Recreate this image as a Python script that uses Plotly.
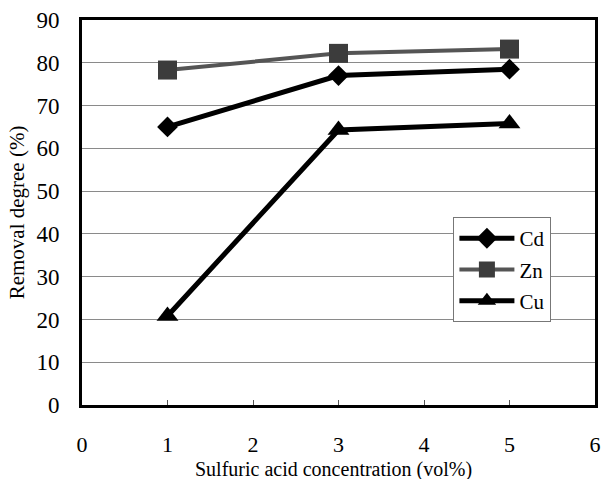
import plotly.graph_objects as go

x_vals = [1, 3, 5]
cd = [65, 77, 78.5]
zn = [78.3, 82.2, 83.2]
cu = [20.8, 64.3, 65.8]

x_ticks = [0, 1, 2, 3, 4, 5, 6]
y_ticks = [0, 10, 20, 30, 40, 50, 60, 70, 80, 90]

font = "Liberation Serif, Times New Roman, serif"

fig = go.Figure()
fig.add_trace(go.Scatter(x=x_vals, y=cd, name="Cd", mode="lines+markers", legendgroup="a",
                         line=dict(color="black", width=5),
                         marker=dict(symbol="diamond", size=16, color="black")))
fig.add_trace(go.Scatter(x=x_vals, y=zn, name="Zn", mode="lines+markers", legendgroup="b",
                         line=dict(color="#555555", width=4),
                         marker=dict(symbol="square", size=19, color="#3c3c3c")))
fig.add_trace(go.Scatter(x=x_vals, y=cu, name="Cu", mode="lines+markers", legendgroup="c",
                         line=dict(color="black", width=5),
                         marker=dict(symbol="triangle-up", size=19, color="black")))

fig.update_layout(
    width=602, height=479,
    margin=dict(l=82, r=7, t=20, b=74),
    paper_bgcolor="white", plot_bgcolor="white",
    font=dict(family=font, color="black"),
    showlegend=True,
    legend=dict(x=0.724, y=0.488, xanchor="left", yanchor="top",
                bgcolor="white", bordercolor="#777777", borderwidth=1,
                font=dict(size=21, family=font), itemwidth=55,
                tracegroupgap=1),
    annotations=[
        dict(text="Sulfuric acid concentration (vol%)", xref="paper", yref="paper",
             x=0.49, y=-0.168, xanchor="center", yanchor="middle", showarrow=False,
             font=dict(size=20, family=font)),
        dict(text="Removal degree (%)", xref="paper", yref="paper",
             x=-0.127, y=0.5, xanchor="center", yanchor="middle", showarrow=False,
             textangle=-90, font=dict(size=21, family=font)),
    ],
)
fig.update_xaxes(range=[0, 6], tickvals=x_ticks, ticks="inside", ticklen=5,
                 tickcolor="#555", showgrid=False, showline=True, linecolor="black",
                 linewidth=3, mirror=True, tickfont=dict(size=22, family=font),
                 ticklabelstandoff=18, automargin=False,
                 zeroline=False)
fig.update_yaxes(range=[0, 90], tickvals=y_ticks, ticks="", showgrid=True,
                 gridcolor="#8a8a8a", gridwidth=1, showline=True, linecolor="black",
                 linewidth=3, mirror=True, tickfont=dict(size=23, family=font),
                 ticklabelstandoff=15, automargin=False,
                 zeroline=False)

fig.write_html("out.html")
